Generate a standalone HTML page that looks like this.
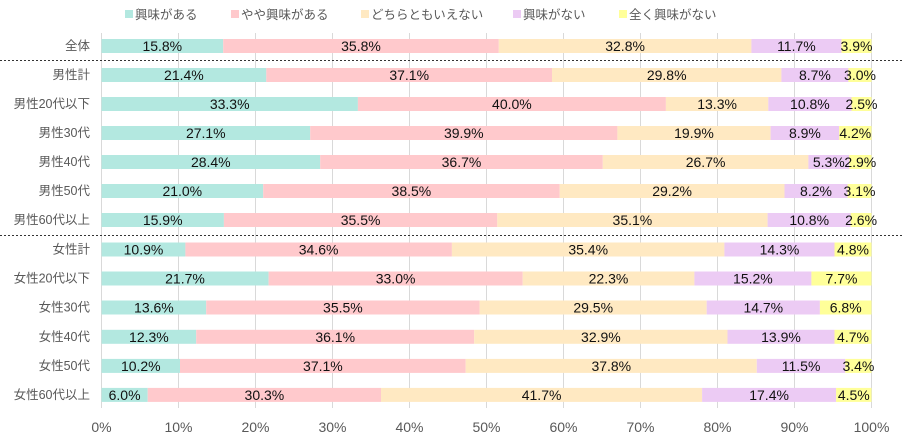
<!DOCTYPE html><html><head><meta charset="utf-8"><style>body{margin:0;background:#fff}svg{display:block;font-family:"Liberation Sans","Noto Sans CJK JP",sans-serif}
.v{font-size:14px;fill:#111;text-anchor:middle}.c{font-size:12.5px;fill:#595959;text-anchor:end}.t{font-size:14px;fill:#595959;text-anchor:middle}.l{font-size:12.5px;fill:#595959}</style></head><body>
<svg width="902" height="445" viewBox="0 0 902 445">
<g stroke="#d9d9d9" stroke-width="1">
<line x1="101.5" y1="33" x2="101.5" y2="408"/><line x1="178.5" y1="33" x2="178.5" y2="408"/><line x1="255.5" y1="33" x2="255.5" y2="408"/><line x1="332.5" y1="33" x2="332.5" y2="408"/><line x1="409.5" y1="33" x2="409.5" y2="408"/><line x1="486.5" y1="33" x2="486.5" y2="408"/><line x1="563.5" y1="33" x2="563.5" y2="408"/><line x1="640.5" y1="33" x2="640.5" y2="408"/><line x1="717.5" y1="33" x2="717.5" y2="408"/><line x1="794.5" y1="33" x2="794.5" y2="408"/><line x1="871.5" y1="33" x2="871.5" y2="408"/>
</g>
<g stroke="#333" stroke-dasharray="2,2"><line x1="0" y1="60.5" x2="902" y2="60.5"/><line x1="0" y1="235.5" x2="902" y2="235.5"/></g>
<g class="l">
<rect x="125" y="10" width="8" height="8" fill="#b3e8e0"/><text x="135" y="19">興味がある</text>
<rect x="231" y="10" width="8" height="8" fill="#ffc9cc"/><text x="241" y="19">やや興味がある</text>
<rect x="361" y="10" width="8" height="8" fill="#ffe9c2"/><text x="371" y="19">どちらともいえない</text>
<rect x="513" y="10" width="8" height="8" fill="#eccbf4"/><text x="523" y="19">興味がない</text>
<rect x="619" y="10" width="8" height="8" fill="#ffff99"/><text x="629" y="19">全く興味がない</text>
</g>
<g transform="translate(0,39)"><rect x="101.5" width="121.7" height="14" fill="#b3e8e0"/><rect x="223.2" width="275.6" height="14" fill="#ffc9cc"/><rect x="498.8" width="252.6" height="14" fill="#ffe9c2"/><rect x="751.4" width="90.1" height="14" fill="#eccbf4"/><rect x="841.5" width="30" height="14" fill="#ffff99"/>
<text class="c" x="90" y="11">全体</text><text class="v" x="162.3" y="12">15.8%</text><text class="v" x="361" y="12">35.8%</text><text class="v" x="625.1" y="12">32.8%</text><text class="v" x="796.4" y="12">11.7%</text><text class="v" x="856.5" y="12">3.9%</text></g>
<g transform="translate(0,68)"><rect x="101.5" width="164.8" height="14" fill="#b3e8e0"/><rect x="266.3" width="285.7" height="14" fill="#ffc9cc"/><rect x="552" width="229.4" height="14" fill="#ffe9c2"/><rect x="781.4" width="67" height="14" fill="#eccbf4"/><rect x="848.4" width="23.1" height="14" fill="#ffff99"/>
<text class="c" x="90" y="11">男性計</text><text class="v" x="183.9" y="12">21.4%</text><text class="v" x="409.2" y="12">37.1%</text><text class="v" x="666.7" y="12">29.8%</text><text class="v" x="814.9" y="12">8.7%</text><text class="v" x="860" y="12">3.0%</text></g>
<g transform="translate(0,97)"><rect x="101.5" width="256.4" height="14" fill="#b3e8e0"/><rect x="357.9" width="308" height="14" fill="#ffc9cc"/><rect x="665.9" width="102.4" height="14" fill="#ffe9c2"/><rect x="768.3" width="83.2" height="14" fill="#eccbf4"/><rect x="851.5" width="20" height="14" fill="#ffff99"/>
<text class="c" x="90" y="11">男性20代以下</text><text class="v" x="229.7" y="12">33.3%</text><text class="v" x="511.9" y="12">40.0%</text><text class="v" x="717.1" y="12">13.3%</text><text class="v" x="809.9" y="12">10.8%</text><text class="v" x="861.5" y="12">2.5%</text></g>
<g transform="translate(0,126)"><rect x="101.5" width="208.7" height="14" fill="#b3e8e0"/><rect x="310.2" width="307.2" height="14" fill="#ffc9cc"/><rect x="617.4" width="153.2" height="14" fill="#ffe9c2"/><rect x="770.6" width="68.6" height="14" fill="#eccbf4"/><rect x="839.2" width="32.3" height="14" fill="#ffff99"/>
<text class="c" x="90" y="11">男性30代</text><text class="v" x="205.8" y="12">27.1%</text><text class="v" x="463.8" y="12">39.9%</text><text class="v" x="694" y="12">19.9%</text><text class="v" x="804.9" y="12">8.9%</text><text class="v" x="855.3" y="12">4.2%</text></g>
<g transform="translate(0,155)"><rect x="101.5" width="218.7" height="14" fill="#b3e8e0"/><rect x="320.2" width="282.6" height="14" fill="#ffc9cc"/><rect x="602.8" width="205.6" height="14" fill="#ffe9c2"/><rect x="808.4" width="40.8" height="14" fill="#eccbf4"/><rect x="849.2" width="22.3" height="14" fill="#ffff99"/>
<text class="c" x="90" y="11">男性40代</text><text class="v" x="210.8" y="12">28.4%</text><text class="v" x="461.5" y="12">36.7%</text><text class="v" x="705.6" y="12">26.7%</text><text class="v" x="828.8" y="12">5.3%</text><text class="v" x="860.3" y="12">2.9%</text></g>
<g transform="translate(0,184)"><rect x="101.5" width="161.7" height="14" fill="#b3e8e0"/><rect x="263.2" width="296.5" height="14" fill="#ffc9cc"/><rect x="559.7" width="224.8" height="14" fill="#ffe9c2"/><rect x="784.5" width="63.1" height="14" fill="#eccbf4"/><rect x="847.6" width="23.9" height="14" fill="#ffff99"/>
<text class="c" x="90" y="11">男性50代</text><text class="v" x="182.3" y="12">21.0%</text><text class="v" x="411.4" y="12">38.5%</text><text class="v" x="672.1" y="12">29.2%</text><text class="v" x="816" y="12">8.2%</text><text class="v" x="859.5" y="12">3.1%</text></g>
<g transform="translate(0,213)"><rect x="101.5" width="122.4" height="14" fill="#b3e8e0"/><rect x="223.9" width="273.4" height="14" fill="#ffc9cc"/><rect x="497.3" width="270.3" height="14" fill="#ffe9c2"/><rect x="767.6" width="83.1" height="14" fill="#eccbf4"/><rect x="850.7" width="20.8" height="14" fill="#ffff99"/>
<text class="c" x="90" y="11">男性60代以上</text><text class="v" x="162.7" y="12">15.9%</text><text class="v" x="360.6" y="12">35.5%</text><text class="v" x="632.4" y="12">35.1%</text><text class="v" x="809.2" y="12">10.8%</text><text class="v" x="861.1" y="12">2.6%</text></g>
<g transform="translate(0,242.5)"><rect x="101.5" width="83.9" height="14" fill="#b3e8e0"/><rect x="185.4" width="266.5" height="14" fill="#ffc9cc"/><rect x="451.9" width="272.5" height="14" fill="#ffe9c2"/><rect x="724.4" width="110.1" height="14" fill="#eccbf4"/><rect x="834.5" width="37" height="14" fill="#ffff99"/>
<text class="c" x="90" y="11">女性計</text><text class="v" x="143.5" y="12">10.9%</text><text class="v" x="318.6" y="12">34.6%</text><text class="v" x="588.2" y="12">35.4%</text><text class="v" x="779.5" y="12">14.3%</text><text class="v" x="853" y="12">4.8%</text></g>
<g transform="translate(0,271.5)"><rect x="101.5" width="167.1" height="14" fill="#b3e8e0"/><rect x="268.6" width="254.1" height="14" fill="#ffc9cc"/><rect x="522.7" width="171.7" height="14" fill="#ffe9c2"/><rect x="694.4" width="117" height="14" fill="#eccbf4"/><rect x="811.4" width="60.1" height="14" fill="#ffff99"/>
<text class="c" x="90" y="11">女性20代以下</text><text class="v" x="185" y="12">21.7%</text><text class="v" x="395.6" y="12">33.0%</text><text class="v" x="608.5" y="12">22.3%</text><text class="v" x="752.9" y="12">15.2%</text><text class="v" x="841.5" y="12">7.7%</text></g>
<g transform="translate(0,300.5)"><rect x="101.5" width="104.7" height="14" fill="#b3e8e0"/><rect x="206.2" width="273.4" height="14" fill="#ffc9cc"/><rect x="479.6" width="227.1" height="14" fill="#ffe9c2"/><rect x="706.7" width="113.2" height="14" fill="#eccbf4"/><rect x="819.9" width="51.6" height="14" fill="#ffff99"/>
<text class="c" x="90" y="11">女性30代</text><text class="v" x="153.9" y="12">13.6%</text><text class="v" x="342.9" y="12">35.5%</text><text class="v" x="593.2" y="12">29.5%</text><text class="v" x="763.3" y="12">14.7%</text><text class="v" x="845.7" y="12">6.8%</text></g>
<g transform="translate(0,329.8)"><rect x="101.5" width="94.7" height="14" fill="#b3e8e0"/><rect x="196.2" width="278" height="14" fill="#ffc9cc"/><rect x="474.2" width="253.3" height="14" fill="#ffe9c2"/><rect x="727.5" width="107" height="14" fill="#eccbf4"/><rect x="834.5" width="37" height="14" fill="#ffff99"/>
<text class="c" x="90" y="11">女性40代</text><text class="v" x="148.9" y="12">12.3%</text><text class="v" x="335.2" y="12">36.1%</text><text class="v" x="600.9" y="12">32.9%</text><text class="v" x="781" y="12">13.9%</text><text class="v" x="853" y="12">4.7%</text></g>
<g transform="translate(0,358.9)"><rect x="101.5" width="78.5" height="14" fill="#b3e8e0"/><rect x="180" width="285.7" height="14" fill="#ffc9cc"/><rect x="465.7" width="291.1" height="14" fill="#ffe9c2"/><rect x="756.8" width="88.5" height="14" fill="#eccbf4"/><rect x="845.3" width="26.2" height="14" fill="#ffff99"/>
<text class="c" x="90" y="11">女性50代</text><text class="v" x="140.8" y="12">10.2%</text><text class="v" x="322.9" y="12">37.1%</text><text class="v" x="611.3" y="12">37.8%</text><text class="v" x="801.1" y="12">11.5%</text><text class="v" x="858.4" y="12">3.4%</text></g>
<g transform="translate(0,387.9)"><rect x="101.5" width="46.2" height="14" fill="#b3e8e0"/><rect x="147.7" width="233.3" height="14" fill="#ffc9cc"/><rect x="381" width="321.1" height="14" fill="#ffe9c2"/><rect x="702.1" width="134" height="14" fill="#eccbf4"/><rect x="836.1" width="35.4" height="14" fill="#ffff99"/>
<text class="c" x="90" y="11">女性60代以上</text><text class="v" x="124.6" y="12">6.0%</text><text class="v" x="264.4" y="12">30.3%</text><text class="v" x="541.6" y="12">41.7%</text><text class="v" x="769.1" y="12">17.4%</text><text class="v" x="853.8" y="12">4.5%</text></g>
<g class="t"><text x="101.5" y="432">0%</text><text x="178.5" y="432">10%</text><text x="255.5" y="432">20%</text><text x="332.5" y="432">30%</text><text x="409.5" y="432">40%</text><text x="486.5" y="432">50%</text><text x="563.5" y="432">60%</text><text x="640.5" y="432">70%</text><text x="717.5" y="432">80%</text><text x="794.5" y="432">90%</text><text x="871.5" y="432">100%</text></g>
</svg></body></html>
